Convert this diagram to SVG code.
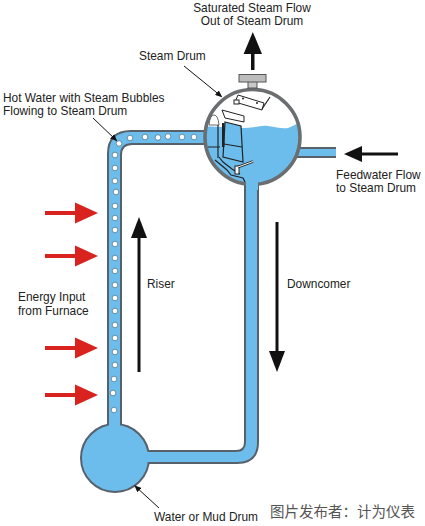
<svg xmlns="http://www.w3.org/2000/svg" width="425" height="526" viewBox="0 0 425 526">
<style>
text{font-family:"Liberation Sans",Arial,sans-serif;font-size:11.900px;fill:#222}
.pipe{fill:#6dbdec;stroke:#56616b;stroke-width:2;stroke-linejoin:round}
.fill{fill:#6dbdec;stroke:none}
.wall{fill:#6dbdec;stroke:#222;stroke-width:1.200}
.bub{fill:#fff;stroke:#4a6a80;stroke-width:.7}
.red{fill:#d8231f}
.blk{fill:#111}
.lead{stroke:#111;stroke-width:1;fill:none}
.int{stroke:#222;fill:none;stroke-width:1.200}
</style>
<defs>
<marker id="lh" markerWidth="7" markerHeight="6" refX="6" refY="3" orient="auto" markerUnits="userSpaceOnUse"><path d="M0 0L7 3L0 6Z" fill="#111"/></marker>
<clipPath id="dc"><circle cx="252.500" cy="137" r="47.500"/></clipPath>
<g id="rarrow"><rect x="-31" y="-2" width="33" height="4" class="red"/><path d="M-1 -10.500L22 0L-1 10.500Z" class="red"/></g>
<circle id="b" r="2.800" class="bub"/>
</defs>
<rect width="425" height="526" fill="#fff"/>
<g id="piping">
<path class="pipe" d="M108 425V154Q108 131 131 131H215V144H132Q121 144 121 155V425Z"/>
<path class="pipe" d="M145 451H236Q245 451 245 442V170H258V442Q258 463 237 463H145Z"/>
<rect x="290" y="148" width="46" height="9" class="fill"/>
<path d="M290 148H336M290 157H336" fill="none" stroke="#56616b" stroke-width="2"/>
</g>
<g id="steam-drum">
<circle cx="252.500" cy="137" r="47.500" fill="#fff"/>
<path class="fill" clip-path="url(#dc)" d="M200 126L245 128C255 128 260 125 268 126C276 127 282 129 288 128C292 127 295 124 302 123V190H200Z"/>
<rect x="200" y="132" width="20" height="11" class="fill"/>
<rect x="290" y="149" width="14" height="7" class="fill"/>
<circle cx="252.500" cy="137" r="47.500" fill="none" stroke="#6b6e70" stroke-width="3.600"/>
<rect x="246" y="180" width="12" height="10" class="fill"/>
<rect x="248" y="81" width="9" height="7" fill="#c9c9c9" stroke="#555"/>
<rect x="239" y="74.500" width="27" height="7.500" fill="#bcbcbc" stroke="#555"/>
<path d="M238 95L264 103L262 110L235 102Z" fill="#fff" stroke="#222"/>
<rect x="234" y="100" width="5" height="4" fill="#fff" stroke="#222"/>
<circle cx="243" cy="98.500" r="1" fill="#222"/><circle cx="257" cy="103" r="1" fill="#222"/>
<path class="int" d="M262 109L270 97"/>
<path d="M225 122L241 126L243 162L223 157Z" class="wall"/>
<path d="M222 110L244 116V122L225 118Z" fill="#fff" stroke="#222"/>
<path class="int" d="M224 144L242 147"/>
<rect x="222" y="123" width="2.500" height="24" fill="#222"/>
<path d="M209 125Q210 115 214 115Q218 115 219 125Z" fill="#fff" stroke="#444" stroke-width=".8"/>
<path class="int" stroke-width="1.500" d="M218 125V158M208 147H220"/>
<path class="int" stroke-width="1.500" d="M215 160L227 170L231 175L243 178L245 182M219 157L223 162L232 169L240 174"/>
<rect x="235" y="166" width="4" height="8" fill="#fff" stroke="#222"/>
<path d="M238 167L253 161.500" stroke="#222" stroke-width="2.500"/>
<path d="M238 167L253 161.500" stroke="#fff" stroke-width="1"/>
</g>
<g id="water-drum"><circle cx="115" cy="458" r="34" class="pipe"/>
<rect x="109" y="420" width="11" height="10" class="fill"/>
<rect x="140" y="452" width="12" height="10" class="fill"/></g>
<g id="bubbles">
<use href="#b" x="119" y="143.500"/><use href="#b" x="130" y="138"/><use href="#b" x="145" y="137"/><use href="#b" x="158" y="137.500"/><use href="#b" x="168" y="136.500"/><use href="#b" x="182" y="137"/><use href="#b" x="194" y="137"/>
<use href="#b" x="115" y="155"/><use href="#b" x="115" y="168"/><use href="#b" x="115" y="181"/><use href="#b" x="116" y="192"/><use href="#b" x="115" y="206"/><use href="#b" x="115" y="218"/><use href="#b" x="115" y="230"/><use href="#b" x="115" y="244"/><use href="#b" x="115" y="258"/><use href="#b" x="115" y="271"/><use href="#b" x="115" y="285"/><use href="#b" x="115" y="298"/><use href="#b" x="115" y="311"/><use href="#b" x="115" y="325"/><use href="#b" x="115" y="338"/><use href="#b" x="115" y="352"/><use href="#b" x="115" y="365"/><use href="#b" x="114" y="379"/><use href="#b" x="113" y="393"/><use href="#b" x="114" y="410"/>
</g>
<g id="connectors">
<use href="#rarrow" x="76" y="213"/><use href="#rarrow" x="76" y="256"/><use href="#rarrow" x="76" y="348"/><use href="#rarrow" x="76" y="395"/>
<rect x="137.500" y="236" width="3" height="136" class="blk"/><path d="M139 217L147 238H131Z" class="blk"/>
<rect x="275.500" y="222" width="3" height="130" class="blk"/><path d="M277 372L269 351H285Z" class="blk"/>
<rect x="251" y="52" width="3.500" height="18" class="blk"/><path d="M252.800 32L262 54H243.600Z" class="blk"/>
<rect x="360" y="152.500" width="38" height="3" class="blk"/><path d="M344 154L362 146V162Z" class="blk"/>
<path class="lead" d="M184 66L221.500 96.500" marker-end="url(#lh)"/>
<path class="lead" d="M93 118L116.500 140.500" marker-end="url(#lh)"/>
<path class="lead" d="M159 508L135 486" marker-end="url(#lh)"/>
</g>
<g id="labels">
<text x="252" y="12" text-anchor="middle">Saturated Steam Flow</text>
<text x="252" y="25" text-anchor="middle">Out of Steam Drum</text>
<text x="139" y="60">Steam Drum</text>
<text x="3" y="102">Hot Water with Steam Bubbles</text>
<text x="3" y="115">Flowing to Steam Drum</text>
<text x="336" y="179">Feedwater Flow</text>
<text x="336" y="192">to Steam Drum</text>
<text x="147" y="288">Riser</text>
<text x="287" y="288">Downcomer</text>
<text x="18" y="301">Energy Input</text>
<text x="18" y="315">from Furnace</text>
<text x="154" y="521">Water or Mud Drum</text>
<text x="270" y="517" style="font-family:'Noto Sans CJK SC','Liberation Sans',sans-serif;font-size:14.500px;fill:#555">图片发布者：计为仪表</text>
</g>
</svg>
